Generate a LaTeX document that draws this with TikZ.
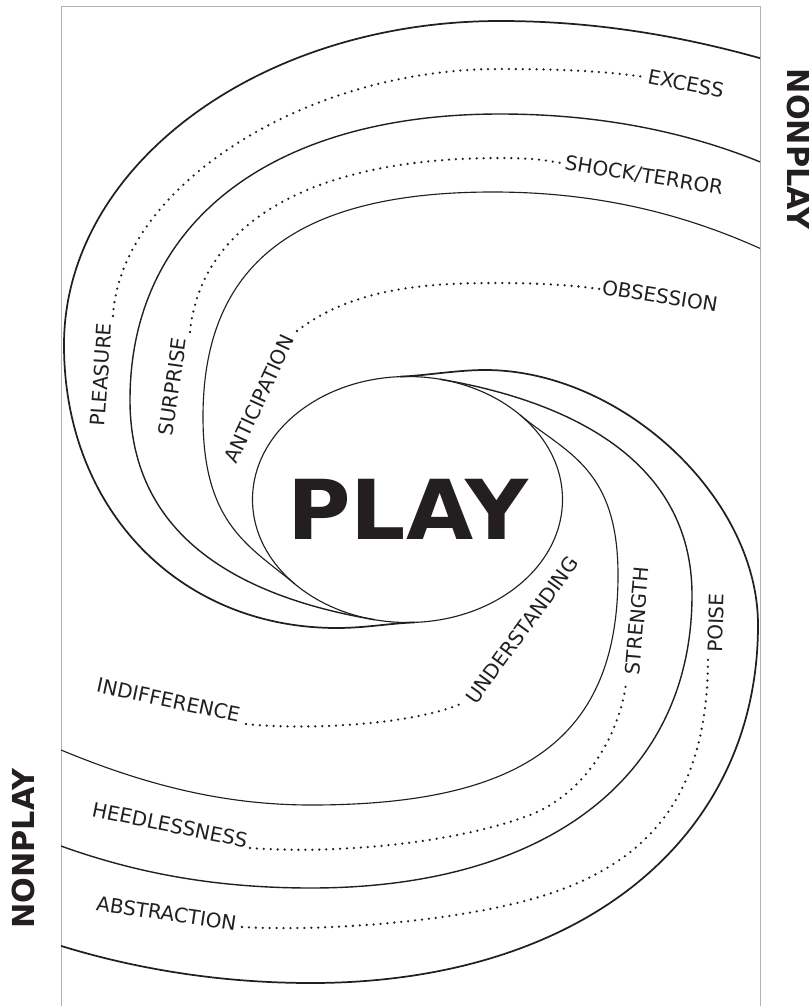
\documentclass[tikz,border=0pt]{standalone}
\usepackage{fontspec}
\setmainfont{DejaVu Sans}
\usetikzlibrary{shapes.geometric}
\definecolor{ink}{HTML}{231F20}

\begin{document}
\begin{tikzpicture}[x=0.75pt,y=-0.75pt,
    lab/.style={font=\fontsize{15}{18}\selectfont,text=ink,inner sep=0pt},
    big/.style={font=\bfseries\fontsize{22.7}{26}\selectfont,text=ink,inner sep=0pt},
    dots/.style={ink,line width=1.9pt,dash pattern=on 0pt off 5.2pt,line cap=round}]
    \useasboundingbox (0,0) rectangle (809,1006);
    \draw[gray!60,line width=0.6pt] (61,1006) -- (61,6) -- (760,6) -- (760,1006);

    \node[draw=ink,ellipse,line width=0.85pt,minimum width=232.5pt,minimum height=184.5pt] (play) at (407.5,499.5) {};
    \node[font=\bfseries\fontsize{62}{70}\selectfont,text=ink,anchor=base,xscale=1.05] (playtxt) at (407.5,539) {PLAY};

    \begin{scope}[ink]
    \clip (61,6) rectangle (760,1006);
    % upper band
    \draw[line width=1.3pt] (800,70) .. controls (720,45) and (620,21) .. (500,21)
        .. controls (259,21) and (64,166) .. (64,345)
        .. controls (64,509) and (179,628) .. (337,628)
        .. controls (365,628) and (390,623.3) .. (415,622.35);
    \draw[line width=1.05pt] (800,180) .. controls (720,140) and (620,114) .. (500,114)
        .. controls (271,114) and (130,223) .. (130,400)
        .. controls (130,540) and (245,597.7) .. (375,619.77);
    \draw[line width=0.85pt] (800,268) .. controls (700,215) and (600,192) .. (493,192)
        .. controls (296,192) and (203,264) .. (203,417)
        .. controls (203,525) and (250,546.4) .. (295,584.1);
    % lower band
    \draw[line width=1.3pt] (400,376.65) .. controls (425,375.7) and (457,370) .. (485,370)
        .. controls (621,370) and (758,497) .. (758,625)
        .. controls (758,840) and (579,983) .. (311,983)
        .. controls (190,983) and (90,958) .. (20,932);
    \draw[line width=1.05pt] (440,379.23) .. controls (569,401.1) and (692,460) .. (692,595)
        .. controls (692,776.7) and (547,888) .. (311,888)
        .. controls (200,888) and (110,868) .. (20,830);
    \draw[line width=0.85pt] (520,414.9) .. controls (565,452.6) and (618,467) .. (618,575)
        .. controls (618,736) and (526,805) .. (311,805)
        .. controls (210,805) and (120,778) .. (20,732);
    \end{scope}

    % dotted leaders
    \draw[dots] (113,316) .. controls (120,190) and (300,69) .. (500,69)
        .. controls (570,69) and (610,72) .. (645,77);
    \draw[dots] (190,332) .. controls (200,230) and (300,158) .. (500,158)
        .. controls (530,158) and (545,160) .. (561,163);
    \draw[dots] (297,331) .. controls (350,290) and (420,283) .. (493,283)
        .. controls (540,283) and (570,285) .. (600,289);
    \draw[dots] (246,724) .. controls (300,730) and (410,726) .. (463,703);
    \draw[dots] (250,848) .. controls (330,854) and (450,845) .. (530,815)
        .. controls (582,795) and (618,740) .. (626,684);
    \draw[dots] (242,927) .. controls (330,932) and (480,920) .. (560,890)
        .. controls (670,850) and (708,770) .. (708,657);

    \node[lab,rotate=86] (pleasure) at (101,374.5) {PLEASURE};
    \node[lab,rotate=-11] (excess) at (686,83.5) {EXCESS};
    \node[lab,rotate=82] (surprise) at (172.5,386.5) {SURPRISE};
    \node[lab,rotate=-9] (shock) at (644,176) {SHOCK/TERROR};
    \node[lab,rotate=65] (anticip) at (259,399) {ANTICIPATION};
    \node[lab,rotate=-9] (obsess) at (660,296) {OBSESSION};
    \node[lab,rotate=-12] (indiff) at (168.5,700) {INDIFFERENCE};
    \node[lab,rotate=54] (underst) at (522,630) {UNDERSTANDING};
    \node[lab,rotate=-11.5] (heedl) at (170,825) {HEEDLESSNESS};
    \node[lab,rotate=85] (strength) at (637,621) {STRENGTH};
    \node[lab,rotate=-8.5] (abstr) at (166.5,913.5) {ABSTRACTION};
    \node[lab,rotate=88] (poise) at (716,623) {POISE};

    \node[big,rotate=-90] (nonplayR) at (798.5,149) {NONPLAY};
    \node[big,rotate=90] (nonplayL) at (23.5,848.5) {NONPLAY};
\end{tikzpicture}
\end{document}
